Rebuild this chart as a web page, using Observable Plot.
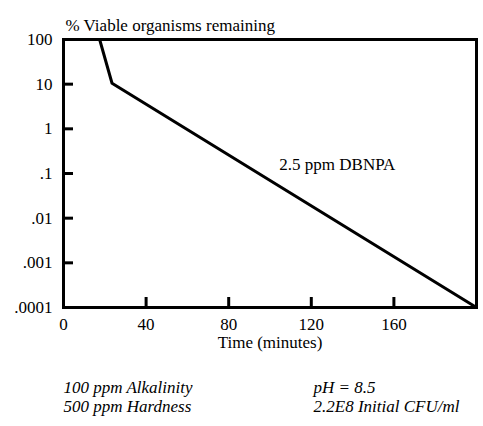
<!DOCTYPE html>
<html>
<head>
<meta charset="utf-8">
<script src="https://cdn.jsdelivr.net/npm/d3@7"></script>
<script src="https://cdn.jsdelivr.net/npm/@observablehq/plot@0.6"></script>
<style>
  body { margin: 0; background: #fff; }
  svg { font-family: "Liberation Serif", "Times New Roman", serif; }
</style>
</head>
<body>
<div id="chart"></div>
<script>
const timeMin = [17.5, 23.5, 200];
const viablePct = [100, 10.5, 0.0001];
const xTicks = [0, 40, 80, 120, 160];
const yTicks = [100, 10, 1, 0.1, 0.01, 0.001, 0.0001];
const yTickLabels = ["100", "10", "1", ".1", ".01", ".001", ".0001"];
const seriesLabel = "2.5 ppm DBNPA";
const labelAt = { x: 104.5, y: 0.155 };
const titleText = "% Viable organisms remaining";
const xTitle = "Time (minutes)";
const notesLeft = ["100 ppm Alkalinity", "500 ppm Hardness"];
const notesRight = ["pH = 8.5", "2.2E8 Initial CFU/ml"];

const data = timeMin.map((t, i) => ({ t, v: viablePct[i] }));
const fmtY = d => yTickLabels[yTicks.indexOf(d)] ?? "";
const FS = 17;

const noteMarks = [];
[notesLeft, notesRight].forEach((col, c) => {
  col.forEach((line, r) => {
    noteMarks.push(Plot.text([line], {
      frameAnchor: "bottom-left", text: d => d, textAnchor: "start",
      dx: c === 0 ? 0 : 250, dy: r === 0 ? 85 : 104,
      fontSize: FS, fontStyle: "italic"
    }));
  });
});

const chart = Plot.plot({
  width: 483,
  height: 426,
  marginLeft: 63,
  marginTop: 39,
  marginRight: 7,
  marginBottom: 119,
  style: { fontFamily: "Liberation Serif, serif", fontSize: FS + "px", color: "#000", background: "#fff" },
  x: { domain: [0, 200] },
  y: { type: "log", domain: [0.0001, 100] },
  marks: [
    Plot.axisY({ ticks: yTicks, tickSize: 0, tickPadding: 11, tickFormat: fmtY, label: null, fontSize: FS }),
    Plot.axisY({ ticks: yTicks, tickSize: -10, strokeWidth: 3, tickFormat: () => "", label: null }),
    Plot.axisX({ ticks: xTicks, tickSize: 0, tickPadding: 10, tickFormat: d => String(d), label: null, fontSize: FS }),
    Plot.axisX({ ticks: xTicks, tickSize: -10, strokeWidth: 3, tickFormat: () => "", label: null }),
    Plot.frame({ stroke: "#000", strokeWidth: 3 }),
    Plot.line(data, { x: "t", y: "v", stroke: "#000", strokeWidth: 3 }),
    Plot.text([seriesLabel], { x: labelAt.x, y: labelAt.y, text: d => d, textAnchor: "start", fontSize: FS }),
    Plot.text([titleText], { frameAnchor: "top-left", text: d => d, textAnchor: "start", dx: 2, dy: -21, fontSize: FS }),
    Plot.text([xTitle], { frameAnchor: "bottom", text: d => d, dy: 40, fontSize: FS }),
    ...noteMarks
  ]
});

document.getElementById("chart").appendChild(chart);
</script>
</body>
</html>
